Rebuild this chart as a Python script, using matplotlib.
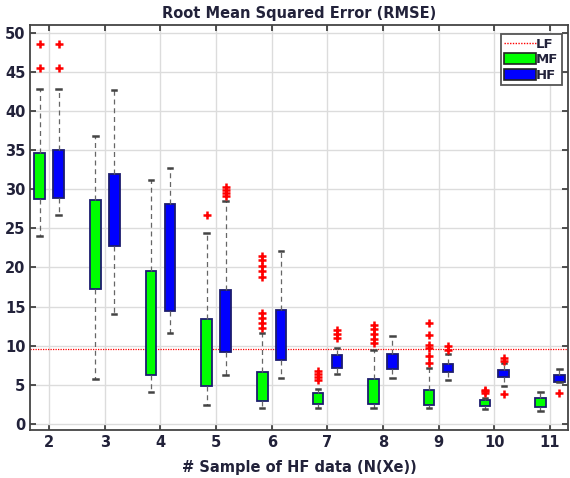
import numpy as np
import matplotlib.pyplot as plt
from matplotlib.patches import Patch
from matplotlib.lines import Line2D

# Number of HF samples
grupos = [2, 3, 4, 5, 6, 7, 8, 9, 10, 11]

# MF statistics
mf_q1 = [28.7, 17.3, 6.3, 4.9, 2.9, 2.6, 2.5, 2.4, 2.35, 2.2]
mf_q3 = [34.6, 28.6, 19.5, 13.4, 6.6, 3.9, 5.7, 4.4, 3.1, 3.3]
mf_lo = [24.0, 5.8, 4.1, 2.4, 2.1, 2.1, 2.1, 2.1, 1.9, 1.7]
mf_hi = [42.8, 36.8, 31.2, 24.4, 11.6, 4.5, 9.5, 7.1, 3.3, 4.1]
mf_out = [
    [45.5, 48.6],
    [],
    [],
    [26.7],
    [12.3, 12.9, 13.5, 14.2, 18.8, 19.5, 20.2, 20.9, 21.4],
    [5.6, 6.0, 6.4, 6.8],
    [10.3, 10.9, 11.5, 12.1, 12.7],
    [7.8, 8.7, 9.7, 10.1, 11.4, 12.9],
    [3.9, 4.2, 4.4],
    [],
]

# HF statistics
hf_q1 = [28.9, 22.7, 14.4, 9.25, 8.2, 7.1, 7.0, 6.7, 6.0, 5.4]
hf_q3 = [35.0, 31.9, 28.1, 17.1, 14.6, 8.8, 8.95, 7.7, 6.9, 6.3]
hf_lo = [26.7, 14.0, 11.6, 6.3, 5.9, 6.4, 5.9, 5.6, 4.9, 5.4]
hf_hi = [42.8, 42.7, 32.7, 28.5, 22.1, 9.7, 11.25, 9.0, 7.8, 7.0]
hf_out = [
    [45.5, 48.6],
    [],
    [],
    [29.1, 29.5, 29.9, 30.3],
    [],
    [11.0, 11.5, 12.0],
    [],
    [9.5, 9.9],
    [3.8, 8.1, 8.4],
    [4.0],
]

# LF reference error
lf_valor = 9.6


def armar_stats(q1, q3, lo, hi, out):
    stats = []
    for a, b, c, d, f in zip(q1, q3, lo, hi, out):
        stats.append({'q1': a, 'q3': b, 'med': (a + b) / 2, 'whislo': c,
                      'whishi': d, 'fliers': np.array(f)})
    return stats


fig = plt.figure(figsize=(5.7, 4.78), dpi=100)
ax = fig.add_axes([0.053, 0.1, 0.944, 0.848])

texto = '#22223a'
ax.set_axisbelow(True)
ax.grid(True, color='#dcdcdc', linewidth=1.0)

ax.axhline(lf_valor, color='red', linestyle=(0, (1, 1)), linewidth=0.9, zorder=1)

x = np.array(grupos, dtype=float)
for stats, despl, color in [(armar_stats(mf_q1, mf_q3, mf_lo, mf_hi, mf_out), -0.17, '#00ff00'),
                            (armar_stats(hf_q1, hf_q3, hf_lo, hf_hi, hf_out), 0.17, '#0000ff')]:
    ax.bxp(stats, positions=x + despl, widths=0.19, capwidths=0.08,
           patch_artist=True, manage_ticks=False,
           boxprops=dict(facecolor=color, edgecolor='#1c1c6e', linewidth=1.3),
           medianprops=dict(visible=False),
           whiskerprops=dict(color='#666666', linestyle=(0, (4, 3)), linewidth=0.9),
           capprops=dict(color='#444444', linewidth=1.8),
           flierprops=dict(marker='+', markeredgecolor='red', markersize=6,
                           markeredgewidth=1.8))

ax.set_xlim(1.66, 11.33)
ax.set_ylim(-0.8, 51)
ax.set_xticks(grupos)
ax.set_yticks(np.arange(0, 51, 5))
ax.tick_params(direction='in', top=True, right=True, length=4, width=1.2,
               colors='#333333', labelcolor=texto, labelsize=10.5)
for lab in ax.get_xticklabels() + ax.get_yticklabels():
    lab.set_fontweight('bold')
for s in ax.spines.values():
    s.set_color('#444444')
    s.set_linewidth(1.3)

ax.set_title('Root Mean Squared Error (RMSE)', fontsize=10.5, fontweight='bold',
             color=texto, pad=5)
ax.set_xlabel('# Sample of HF data (N(Xe))', fontsize=10.5, fontweight='bold',
              color=texto, labelpad=7)

manejadores = [
    Line2D([0], [0], color='red', linestyle=(0, (1, 1)), linewidth=1),
    Patch(facecolor='#00ff00', edgecolor='#222222', linewidth=1.2),
    Patch(facecolor='#0000ff', edgecolor='#222222', linewidth=1.2),
]
leg = ax.legend(manejadores, ['LF', 'MF', 'HF'], loc='upper right',
                bbox_to_anchor=(0.993, 0.983), fancybox=False, framealpha=1,
                edgecolor='#555555', handlelength=2.4, handleheight=0.9,
                handletextpad=0.05, borderpad=0.25, labelspacing=0.2,
                borderaxespad=0.2, prop={'weight': 'bold', 'size': 9.5})
leg.get_frame().set_linewidth(1.3)
for t in leg.get_texts():
    t.set_color(texto)

fig.savefig('out.png', dpi=100)
